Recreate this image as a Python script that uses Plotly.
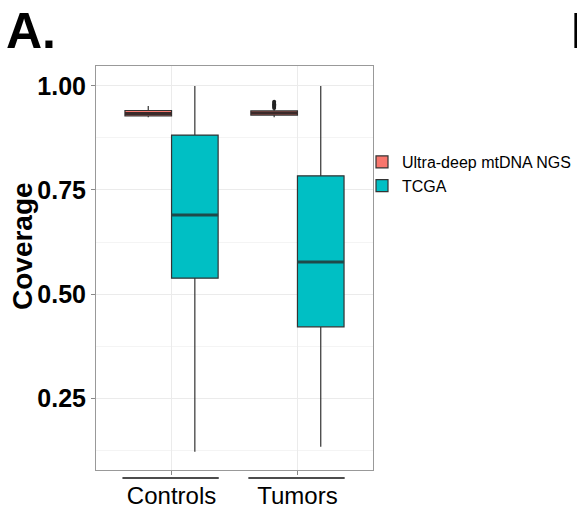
import plotly.graph_objects as go

# ---- data ----
categories = ["Controls", "Tumors"]
series_names = ["Ultra-deep mtDNA NGS", "TCGA"]
ngs_lower = [0.925, 0.925]
ngs_q1 = [0.928, 0.930]
ngs_median = [0.934, 0.935]
ngs_q3 = [0.941, 0.940]
ngs_upper = [0.952, 0.944]
tcga_lower = [0.121, 0.133]
tcga_q1 = [0.538, 0.421]
tcga_median = [0.690, 0.577]
tcga_q3 = [0.882, 0.784]
tcga_upper = [1.00, 1.00]
tumor_ngs_outliers = [0.947, 0.950, 0.953, 0.956, 0.959, 0.962]
y_ticks = [0.25, 0.50, 0.75, 1.00]

W, H = 577, 514
L, R, T, B = 96, 204, 66, 44
pw, ph = W - L - R, H - T - B


def px_x(px):
    return (px - L) / pw


def px_y(py):
    return 1 - (py - T) / ph


cat_pos = list(range(len(categories)))
off = 0.185
bw = 0.37
ngs_x = [p - off for p in cat_pos]
tcga_x = [p + off for p in cat_pos]

fig = go.Figure()
specs = [
    (series_names[0], ngs_x, ngs_lower, ngs_q1, ngs_median, ngs_q3, ngs_upper, "#F8766D", "#3a2a2a"),
    (series_names[1], tcga_x, tcga_lower, tcga_q1, tcga_median, tcga_q3, tcga_upper, "#00BFC4", "#1f4a4a"),
]
for name, xs, lo, q1, med, q3, up, col, mcol in specs:
    fig.add_trace(go.Box(
        name=name, x=xs, lowerfence=lo, q1=q1, median=med, q3=q3, upperfence=up,
        fillcolor=col, line=dict(color="#333333", width=1.2), whiskerwidth=0,
        width=bw, boxpoints=False, hoverinfo="skip",
    ))
    for x, m in zip(xs, med):
        fig.add_trace(go.Scatter(
            x=[x - bw / 2, x + bw / 2], y=[m, m], mode="lines",
            line=dict(color=mcol, width=3), showlegend=False, hoverinfo="skip"))

fig.add_trace(go.Scatter(
    x=[ngs_x[1]] * len(tumor_ngs_outliers), y=tumor_ngs_outliers, mode="markers",
    marker=dict(color="#222222", size=4), showlegend=False, hoverinfo="skip"))

# underline decoration below each category label
for p in cat_pos:
    fig.add_shape(type="line", xref="x", yref="paper", x0=p - 0.39, x1=p + 0.375,
                  y0=px_y(478), y1=px_y(478), line=dict(color="#111111", width=1.5))

fig.add_annotation(text="<b>A.</b>", xref="paper", yref="paper", x=px_x(4), y=px_y(1),
                   xanchor="left", yanchor="top", showarrow=False,
                   font=dict(family="Arial", size=50, color="black"))
fig.add_annotation(text="<b>B.</b>", xref="paper", yref="paper", x=px_x(569), y=px_y(1),
                   xanchor="left", yanchor="top", showarrow=False,
                   font=dict(family="Arial", size=50, color="black"))
fig.add_annotation(text="<b>Coverage</b>", xref="paper", yref="paper", x=px_x(23), y=px_y(246),
                   xanchor="center", yanchor="middle", showarrow=False, textangle=-90,
                   font=dict(family="Arial", size=28, color="black"))

fig.update_layout(
    width=W, height=H,
    margin=dict(l=L, r=R, t=T, b=B, autoexpand=False),
    paper_bgcolor="white", plot_bgcolor="white",
    showlegend=True,
    legend=dict(x=px_x(362), y=px_y(145), xanchor="left", yanchor="top",
                font=dict(family="Arial", size=16, color="black"),
                bgcolor="rgba(0,0,0,0)", tracegroupgap=0, itemwidth=30),
    font=dict(family="Arial"),
)
fig.update_xaxes(
    range=[-0.6, 1.6], tickvals=cat_pos, ticktext=categories,
    tickfont=dict(family="Arial", size=24, color="black"),
    ticks="outside", ticklen=4, tickcolor="#888888",
    showgrid=True, gridcolor="#ebebeb", zeroline=False, automargin=False,
    showline=True, mirror=True, linecolor="#999999", linewidth=1,
)
fig.update_yaxes(
    range=[0.077, 1.048], tickvals=y_ticks, tickformat=".2f",
    tickfont=dict(family="Arial", size=25, color="black", weight="bold"),
    ticks="outside", ticklen=4, tickcolor="#888888",
    showgrid=True, gridcolor="#ebebeb", zeroline=False, automargin=False,
    minor=dict(tickvals=[0.125, 0.375, 0.625, 0.875], showgrid=True, gridcolor="#f4f4f4"),
    showline=True, mirror=True, linecolor="#999999", linewidth=1,
)

fig.write_html("out.html")
